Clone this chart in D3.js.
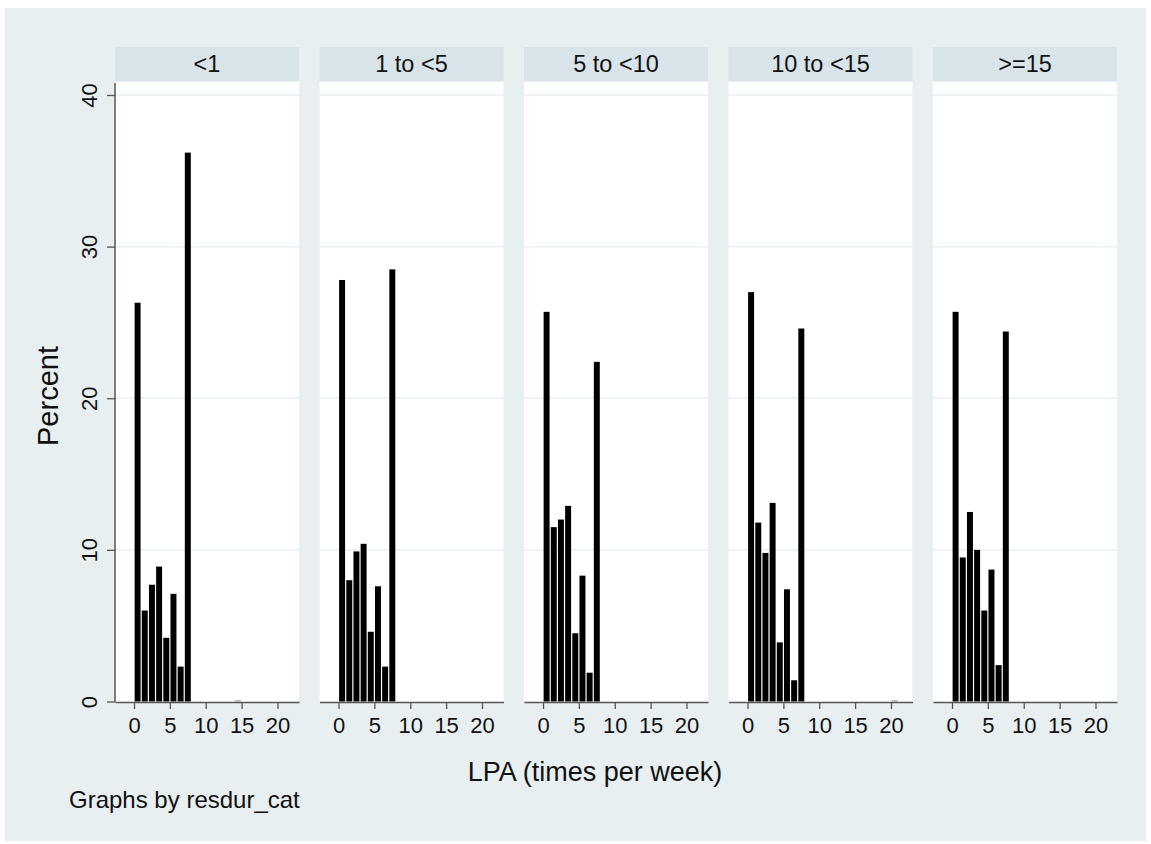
<!DOCTYPE html>
<html>
<head>
<meta charset="utf-8">
<script src="https://cdn.jsdelivr.net/npm/d3@7"></script>
<style>
  body { margin: 0; background: #fff; }
  svg { display: block; font-family: "Liberation Sans", Arial, Helvetica, sans-serif; }
</style>
</head>
<body>
<div id="chart"></div>
<script>
// panels (resdur_cat) and histogram bins of LPA, width 1, starting at 0..20
var panels = ["<1", "1 to <5", "5 to <10", "10 to <15", ">=15"];
var binStarts = [0,1,2,3,4,5,6,7,8,9,10,11,12,13,14,15,16,17,18,19,20];

var pctLt1    = [26.3, 6.0, 7.7,  8.9, 4.2, 7.1, 2.3, 36.2, 0,0,0,0,0,0, 0.1, 0,0,0,0,0, 0];
var pct1to5   = [27.8, 8.0, 9.9, 10.4, 4.6, 7.6, 2.3, 28.5, 0,0,0,0,0,0, 0,   0,0,0,0,0, 0];
var pct5to10  = [25.7, 11.5, 12.0, 12.9, 4.5, 8.3, 1.9, 22.4, 0,0,0,0,0,0, 0, 0,0,0,0,0, 0];
var pct10to15 = [27.0, 11.8, 9.8, 13.1, 3.9, 7.4, 1.4, 24.6, 0,0,0,0,0,0, 0, 0,0,0,0,0, 0.1];
var pctGe15   = [25.7, 9.5, 12.5, 10.0, 6.0, 8.7, 2.4, 24.4, 0,0,0,0,0,0, 0, 0,0,0,0,0, 0];
var series = [pctLt1, pct1to5, pct5to10, pct10to15, pctGe15];

var yTicks = [0, 10, 20, 30, 40];
var xTicks = [0, 5, 10, 15, 20];

var width = 1151, height = 844;
var svg = d3.select("#chart").append("svg")
    .attr("width", width)
    .attr("height", height);

// outer graph region
svg.append("rect")
    .attr("x", 5).attr("y", 8)
    .attr("width", 1141).attr("height", 833)
    .attr("fill", "#e8eff0");

var panelW = 184, panelPitch = 204.5, left0 = 115;
var plotTop = 82, plotBottom = 702;

var y = d3.scaleLinear().domain([0, 40]).range([701.5, 95]);

panels.forEach(function(name, i) {
  var px = left0 + i * panelPitch;
  var x = d3.scaleLinear().domain([-2.65, 23]).range([px, px + panelW]);
  var g = svg.append("g");

  // header strip
  g.append("rect")
      .attr("x", px).attr("y", 47)
      .attr("width", panelW).attr("height", 34)
      .attr("fill", "#d9e4ea");
  g.append("text")
      .attr("x", px + panelW / 2).attr("y", 72)
      .attr("text-anchor", "middle")
      .attr("font-size", 23.5)
      .attr("fill", "#111")
      .text(name);

  // plot region
  g.append("rect")
      .attr("x", px).attr("y", plotTop)
      .attr("width", panelW).attr("height", plotBottom - plotTop)
      .attr("fill", "#fff");

  // gridlines
  g.selectAll(".grid")
      .data(yTicks.slice(1))
      .enter().append("line")
      .attr("x1", px).attr("x2", px + panelW)
      .attr("y1", function(d) { return y(d); })
      .attr("y2", function(d) { return y(d); })
      .attr("stroke", "#e8f0f0")
      .attr("stroke-width", 1.5);

  // bars
  var bins = binStarts.map(function(b, j) { return {x0: b, v: series[i][j]}; })
      .filter(function(d) { return d.v > 0; });
  g.selectAll(".bar")
      .data(bins)
      .enter().append("rect")
      .attr("x", function(d) { return x(d.x0) + 0.6; })
      .attr("width", function(d) { return x(d.x0 + 1) - x(d.x0) - 1.2; })
      .attr("y", function(d) { return y(d.v); })
      .attr("height", function(d) { return Math.max(1.2, y(0) - y(d.v)); })
      .attr("fill", function(d) { return d.v < 0.5 ? "#bbb" : "#000"; });

  // x axis
  var xAxis = g.append("g")
      .attr("transform", "translate(0," + plotBottom + ")")
      .call(d3.axisBottom(x).tickValues(xTicks).tickSize(7).tickPadding(8).tickSizeOuter(0));
  xAxis.select(".domain").attr("stroke", "#555").attr("stroke-width", 1.5);
  xAxis.selectAll(".tick line").attr("stroke", "#555").attr("stroke-width", 1.3);
  xAxis.selectAll(".tick text")
      .attr("font-size", 22)
      .attr("font-family", "'Liberation Sans', Arial, sans-serif")
      .attr("fill", "#111");

  if (i === 0) {
    var yAxis = g.append("g")
        .attr("transform", "translate(" + px + ",0)")
        .call(d3.axisLeft(y).tickValues(yTicks).tickSize(8).tickPadding(8).tickSizeOuter(0));
    yAxis.select(".domain").remove();
    g.append("line")
        .attr("x1", px).attr("x2", px)
        .attr("y1", 83).attr("y2", plotBottom)
        .attr("stroke", "#555").attr("stroke-width", 1.5);
    yAxis.selectAll(".tick line").attr("stroke", "#555").attr("stroke-width", 1.3);
    yAxis.selectAll(".tick text")
        .attr("font-size", 22)
        .attr("font-family", "'Liberation Sans', Arial, sans-serif")
        .attr("fill", "#111")
        .attr("text-anchor", "middle")
        .attr("dy", null)
        .attr("x", 0)
        .attr("y", 0)
        .attr("transform", "translate(-18,0) rotate(-90)");
  }
});

// axis titles
svg.append("text")
    .attr("transform", "translate(58,396) rotate(-90)")
    .attr("text-anchor", "middle")
    .attr("font-size", 29)
    .attr("fill", "#111")
    .text("Percent");

svg.append("text")
    .attr("x", 595).attr("y", 781)
    .attr("text-anchor", "middle")
    .attr("font-size", 27)
    .attr("fill", "#111")
    .text("LPA (times per week)");

svg.append("text")
    .attr("x", 69).attr("y", 808)
    .attr("font-size", 24)
    .attr("fill", "#111")
    .text("Graphs by resdur_cat");
</script>
</body>
</html>
